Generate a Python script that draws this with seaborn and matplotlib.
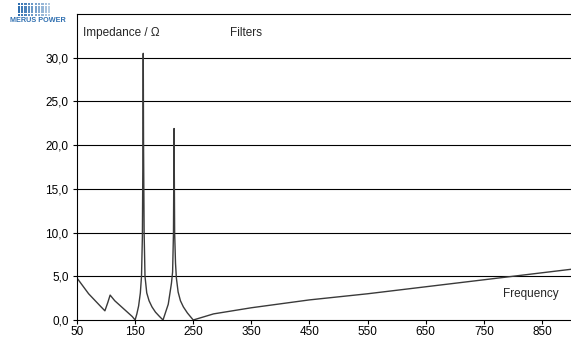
import numpy as np
import pandas as pd
import matplotlib.pyplot as plt
from matplotlib.ticker import FuncFormatter
import seaborn as sns

# impedance curve (frequency in Hz, impedance in ohm)
freq = [50, 60, 70, 80, 90, 98, 103, 107, 115, 125, 135, 145, 150,
        153, 156, 159, 161, 162.5, 163.5, 164, 164.5, 165.5, 167, 170, 174,
        179, 185, 192, 198, 203, 207, 210, 212.5, 214.5, 216, 217, 218,
        219.5, 221, 224, 228, 233, 240, 250, 285, 350, 450, 550, 650, 750,
        800, 850, 900]
impedance = [4.8, 3.9, 3.0, 2.3, 1.6, 1.05, 2.0, 2.85, 2.2, 1.6, 1.0, 0.4, 0.0,
             0.7, 1.6, 3.1, 5.0, 9.5, 20.0, 30.5, 20.0, 10.0, 5.0, 3.1, 2.2,
             1.5, 0.9, 0.4, 0.0, 1.0, 1.8, 3.1, 4.2, 5.5, 10.0, 21.9, 10.0,
             6.5, 4.8, 3.2, 2.2, 1.5, 0.8, 0.0, 0.7, 1.4, 2.3, 3.0, 3.8, 4.6,
             5.0, 5.4, 5.8]
x_ticks = [50, 150, 250, 350, 450, 550, 650, 750, 850]
y_ticks = [0, 5, 10, 15, 20, 25, 30]

df = pd.DataFrame({"freq": freq, "impedance": impedance})

sns.set_theme(style="white")
plt.rcParams["font.family"] = ["Liberation Sans", "DejaVu Sans"]

fig = plt.figure(figsize=(5.71, 3.38), dpi=100)
ax = fig.add_axes([77 / 571, 18 / 338, 1 - 77 / 571, 306 / 338])

sns.lineplot(data=df, x="freq", y="impedance", ax=ax, color="#3a3a3a",
             linewidth=1.0, sort=False, estimator=None)

ax.set_xlim(50, 900)
ax.set_ylim(0, 35)
ax.set_xticks(x_ticks)
ax.set_yticks(y_ticks)
ax.yaxis.set_major_formatter(FuncFormatter(lambda v, p: f"{v:.1f}".replace(".", ",")))
ax.tick_params(axis="both", labelsize=8.5, colors="black", length=3, width=0.8,
               direction="out", bottom=True, left=True)
ax.tick_params(axis="x", pad=1.5)
ax.tick_params(axis="y", pad=3)
ax.set_xlabel("")
ax.set_ylabel("")

for y in y_ticks[1:]:
    ax.axhline(y, color="black", linewidth=0.8, zorder=0)

for side in ["left", "bottom", "top"]:
    ax.spines[side].set_color("black")
    ax.spines[side].set_linewidth(0.8)
ax.spines["right"].set_visible(False)

ax.text(0.012, 0.938, "Impedance / Ω", fontsize=8.5, va="center", ha="left",
        transform=ax.transAxes)
ax.text(0.31, 0.938, "Filters", fontsize=8.5, va="center", ha="left",
        transform=ax.transAxes)
ax.text(0.862, 0.085, "Frequency", fontsize=8.5, va="center", ha="left",
        transform=ax.transAxes)

# logo (decorative dot grid, fading to the right)
logo = fig.add_axes([17 / 571, 1 - 16 / 338, 34 / 571, 13 / 338])
gx, gy = np.meshgrid(np.arange(10), np.arange(5))
fade = 1 - gx.ravel() / 14
logo.scatter(gx.ravel(), gy.ravel(), s=2.2, marker="s", c="#2f6fb0",
             alpha=fade, linewidths=0)
logo.set_xlim(-0.5, 9.5)
logo.set_ylim(-0.5, 4.5)
logo.axis("off")
fig.text(10 / 571, 1 - 21 / 338, "MERUS POWER", fontsize=5.2, color="#2f6fb0",
         fontweight="bold", va="center", ha="left")

fig.savefig("out.png", dpi=100)
